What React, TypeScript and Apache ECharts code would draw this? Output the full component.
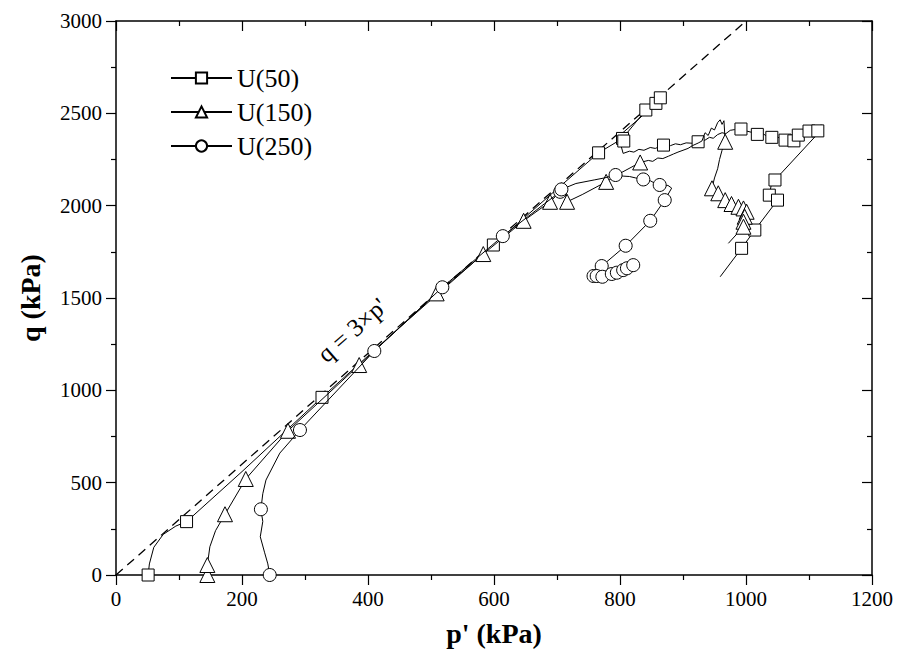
import React, { useEffect, useRef } from "react";
import * as echarts from "echarts";

// [p' (kPa), q (kPa), marker shown (1) or not (0)]
type Pt = [number, number, number];

const SERIES_NAMES = ["U(50)", "U(150)", "U(250)"];
const SERIES_SYMBOLS = ["rect", "triangle", "circle"];
const SERIES_SYMBOL_SIZES = [12, 15, 13];

const u50: Pt[] = [
  [51, 0, 1], [53, 60, 0], [60, 150, 0], [75, 220, 0], [95, 265, 0], [112, 289, 1],
  [200, 560, 0], [327, 962, 1], [450, 1340, 0], [599, 1787, 1], [700, 2090, 0],
  [766, 2286, 1], [804, 2364, 1], [841, 2518, 1], [857, 2554, 1], [864, 2584, 1],
  [868, 2600, 0], [855, 2548, 0], [830, 2470, 0], [800, 2382, 0], [806, 2350, 1],
  [802, 2320, 0], [805, 2283, 0], [815, 2295, 0], [822, 2290, 0], [830, 2305, 0],
  [838, 2300, 0], [848, 2315, 0], [856, 2310, 0], [869, 2328, 1], [880, 2325, 0],
  [888, 2335, 0], [896, 2330, 0], [905, 2340, 0], [915, 2338, 0], [924, 2346, 1],
  [935, 2355, 0], [942, 2370, 0], [948, 2365, 0], [955, 2385, 0], [962, 2395, 0],
  [968, 2390, 0], [975, 2408, 0], [982, 2412, 0], [992, 2415, 1], [1000, 2405, 0],
  [1008, 2398, 0], [1018, 2386, 1], [1026, 2392, 0], [1033, 2376, 0], [1041, 2370, 1],
  [1050, 2372, 0], [1056, 2360, 0], [1062, 2355, 1], [1070, 2358, 0], [1076, 2351, 1],
  [1083, 2382, 1], [1092, 2400, 0], [1100, 2404, 1], [1114, 2405, 1], [1119, 2438, 0],
  [1110, 2375, 0], [1046, 2139, 1], [1040, 2110, 0], [1037, 2057, 1], [1044, 2060, 0],
  [1050, 2030, 1], [1014, 1868, 1], [993, 1769, 1], [959, 1615, 0],
];

const u150: Pt[] = [
  [145, 0, 1], [145, 54, 1], [149, 153, 0], [158, 240, 0], [173, 329, 1], [206, 520, 1],
  [273, 781, 1], [386, 1137, 1], [509, 1525, 1], [583, 1738, 1], [647, 1918, 1],
  [689, 2021, 1], [705, 2075, 0], [712, 2100, 0], [716, 2021, 1], [740, 2060, 0],
  [778, 2129, 1], [800, 2175, 0], [832, 2234, 1], [845, 2245, 0], [852, 2240, 0],
  [860, 2258, 0], [868, 2255, 0], [877, 2268, 0], [885, 2280, 0], [892, 2290, 0],
  [900, 2300, 0], [908, 2310, 0], [915, 2325, 0], [924, 2339, 0], [930, 2350, 0],
  [935, 2395, 0], [940, 2380, 0], [945, 2420, 0], [950, 2410, 0], [955, 2450, 0],
  [959, 2465, 0], [962, 2440, 0], [965, 2460, 0], [967, 2346, 1], [962, 2300, 0],
  [958, 2250, 0], [955, 2200, 0], [950, 2150, 0], [946, 2094, 1], [956, 2067, 1],
  [967, 2030, 1], [977, 2009, 1], [988, 1994, 1], [996, 1985, 1], [1001, 1967, 1],
  [998, 1940, 1], [996, 1913, 1], [996, 1886, 1], [972, 1796, 0],
];

const u250: Pt[] = [
  [244, 0, 1], [241, 60, 0], [236, 120, 0], [229, 207, 0], [233, 290, 0], [230, 356, 1],
  [233, 440, 0], [238, 514, 0], [260, 660, 0], [292, 785, 1], [410, 1213, 1],
  [518, 1558, 1], [614, 1835, 1], [680, 2010, 0], [705, 2075, 1], [707, 2088, 1],
  [730, 2120, 0], [760, 2140, 0], [775, 2150, 0], [793, 2166, 1], [805, 2160, 0],
  [815, 2158, 0], [825, 2150, 0], [837, 2142, 1], [848, 2135, 0], [855, 2122, 0],
  [863, 2112, 1], [870, 2105, 0], [876, 2110, 0], [882, 2095, 0], [871, 2030, 1],
  [848, 1918, 1], [809, 1783, 1], [771, 1673, 1], [758, 1619, 1], [763, 1619, 1],
  [772, 1615, 1], [787, 1630, 1], [795, 1637, 1], [805, 1651, 1], [811, 1661, 1],
  [821, 1678, 1],
];

const REF_LINE: [number, number][] = [[0, 0], [1000, 3000]];
const REF_LABEL = "q = 3\u00d7p'";
const X_NAME = "p' (kPa)";
const Y_NAME = "q (kPa)";

const FONT = "Liberation Serif";

function toData(pts: Pt[]) {
  return pts.map(([p, q, m]) =>
    m ? { value: [p, q] } : { value: [p, q], symbol: "none" }
  );
}

export default function App() {
  const ref = useRef<HTMLDivElement>(null);
  useEffect(() => {
    if (!ref.current) return;
    const chart = echarts.init(ref.current, undefined, { renderer: "svg" });
    const gridL = 116, gridT = 21, gridW = 756, gridH = 554;
    const axisCommon = {
      type: "value" as const,
      splitLine: { show: false },
      axisLine: { show: true, onZero: false, lineStyle: { color: "#000", width: 1.5 } },
    };
    const xCommon = { ...axisCommon, min: 0, max: 1200, interval: 200 };
    const yCommon = { ...axisCommon, min: 0, max: 3000, interval: 500 };
    const tickStyle = { color: "#000", width: 1.2 };
    const fmt = (v: number) => String(v);
    const all = [u50, u150, u250];
    chart.setOption({
      animation: false,
      backgroundColor: "#fff",
      grid: { left: gridL, top: gridT, width: gridW, height: gridH, containLabel: false },
      xAxis: [
        {
          ...xCommon,
          position: "bottom",
          axisTick: { show: true, inside: false, length: 10, lineStyle: tickStyle },
          minorTick: { show: true, splitNumber: 2, length: 5, lineStyle: tickStyle },
          axisLabel: {
            show: true, color: "#000", fontSize: 21, fontFamily: FONT, margin: 13,
            showMinLabel: true, showMaxLabel: true, formatter: fmt,
          },
          name: X_NAME,
          nameLocation: "middle",
          nameGap: 44,
          nameTextStyle: { color: "#000", fontSize: 28, fontWeight: "bold", fontFamily: FONT },
        },
        {
          ...xCommon,
          position: "top",
          axisTick: { show: true, inside: true, length: 10, lineStyle: tickStyle },
          minorTick: { show: true, splitNumber: 2, length: 5, lineStyle: tickStyle },
          axisLabel: { show: false },
        },
      ],
      yAxis: [
        {
          ...yCommon,
          position: "left",
          axisTick: { show: true, inside: false, length: 10, lineStyle: tickStyle },
          minorTick: { show: true, splitNumber: 2, length: 5, lineStyle: tickStyle },
          axisLabel: {
            show: true, color: "#000", fontSize: 21, fontFamily: FONT, margin: 14,
            showMinLabel: true, showMaxLabel: true, formatter: fmt,
          },
          name: Y_NAME,
          nameLocation: "middle",
          nameGap: 72,
          nameRotate: 90,
          nameTextStyle: { color: "#000", fontSize: 28, fontWeight: "bold", fontFamily: FONT },
        },
        {
          ...yCommon,
          position: "right",
          axisTick: { show: true, inside: true, length: 10, lineStyle: tickStyle },
          minorTick: { show: true, splitNumber: 2, length: 5, lineStyle: tickStyle },
          axisLabel: { show: false },
        },
      ],
      legend: {
        orient: "vertical",
        left: 165,
        top: 60,
        itemWidth: 61,
        itemHeight: 14,
        itemGap: 8,
        data: SERIES_NAMES,
        textStyle: { color: "#000", fontSize: 26, fontFamily: FONT, lineHeight: 26, padding: [0, 0, 0, 0] },
      },
      series: [
        {
          type: "line",
          name: "ref",
          data: REF_LINE,
          symbol: "none",
          silent: true,
          lineStyle: { color: "#000", width: 1.3, type: [9, 6] },
          z: 1,
        },
        ...all.map((pts, i) => ({
          type: "line",
          name: SERIES_NAMES[i],
          data: toData(pts),
          symbol: SERIES_SYMBOLS[i],
          symbolSize: SERIES_SYMBOL_SIZES[i],
          showSymbol: true,
          showAllSymbol: true,
          smooth: false,
          lineStyle: { color: "#000", width: 1 },
          itemStyle: { color: "#fff", borderColor: "#000", borderWidth: 1 },
          z: 2 + i,
        })),
      ],
      graphic: [
        {
          type: "text",
          x: 352,
          y: 330,
          rotation: (41.3 * Math.PI) / 180,
          style: {
            text: REF_LABEL,
            fill: "#000",
            font: `25px ${FONT}`,
            align: "center",
            verticalAlign: "middle",
          },
        },
      ],
    });
    return () => chart.dispose();
  }, []);
  return (
    <div
      ref={ref}
      style={{ position: "absolute", left: 0, top: 0, width: 899, height: 661 }}
    />
  );
}
